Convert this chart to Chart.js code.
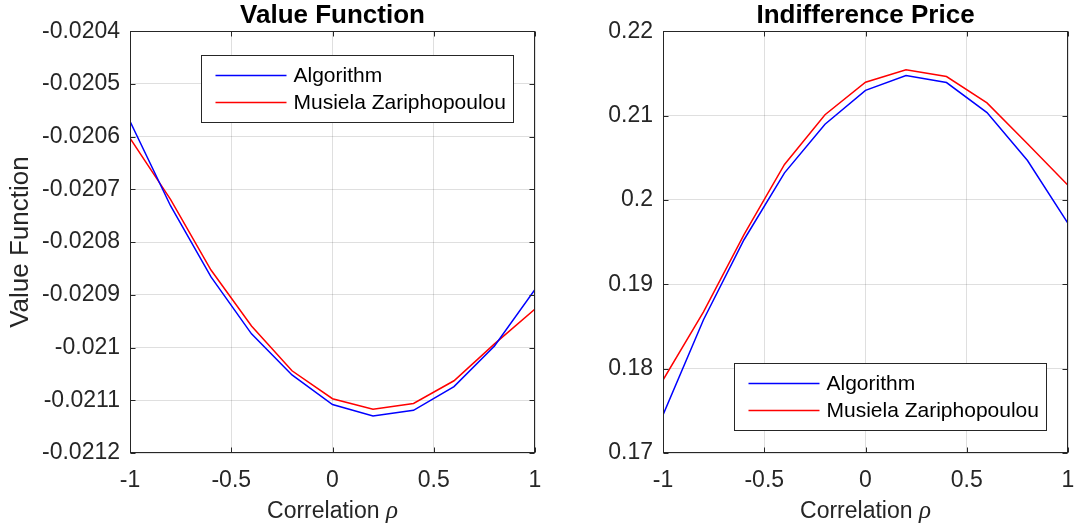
<!DOCTYPE html>
<html>
<head>
<meta charset="utf-8">
<script src="https://cdn.jsdelivr.net/npm/chart.js@4/dist/chart.umd.min.js"></script>
<style>
html, body { margin: 0; padding: 0; background: #fff; }
#wrap { position: relative; width: 1074px; height: 529px; }
.box { position: absolute; top: 0; height: 529px; }
#b1 { left: 0; width: 545px; }
#b2 { left: 545px; width: 529px; }
</style>
</head>
<body>
<div id="wrap">
  <div class="box" id="b1"><canvas id="chart1"></canvas></div>
  <div class="box" id="b2"><canvas id="chart2"></canvas></div>
</div>
<script>
// correlation grid
var rho = [-1, -0.8, -0.6, -0.4, -0.2, 0, 0.2, 0.4, 0.6, 0.8, 1];

// value function
var valueAlgorithm = [-0.020571, -0.020731, -0.020866, -0.020974, -0.021052, -0.021108, -0.021130, -0.021119, -0.021074, -0.020997, -0.020890];
var valueMZ = [-0.020603, -0.020719, -0.020853, -0.020959, -0.021044, -0.021097, -0.021117, -0.021106, -0.021063, -0.020993, -0.020927];

// indifference price
var priceAlgorithm = [0.17450, 0.18580, 0.19528, 0.20321, 0.20898, 0.21299, 0.21475, 0.21391, 0.21036, 0.20467, 0.19723];
var priceMZ = [0.17865, 0.18672, 0.19588, 0.20421, 0.21010, 0.21395, 0.21543, 0.21463, 0.21150, 0.20665, 0.20174];

var seriesNames = ['Algorithm', 'Musiela Zariphopoulou'];

// tick labels
var xTicks = [-1, -0.5, 0, 0.5, 1];
var xTickLabels = ['-1', '-0.5', '0', '0.5', '1'];
var valueTicks = [-0.0212, -0.0211, -0.021, -0.0209, -0.0208, -0.0207, -0.0206, -0.0205, -0.0204];
var valueTickLabels = ['-0.0212', '-0.0211', '-0.021', '-0.0209', '-0.0208', '-0.0207', '-0.0206', '-0.0205', '-0.0204'];
var priceTicks = [0.17, 0.18, 0.19, 0.2, 0.21, 0.22];
var priceTickLabels = ['0.17', '0.18', '0.19', '0.2', '0.21', '0.22'];

Chart.defaults.font.family = '"Liberation Sans", Arial, sans-serif';
Chart.defaults.color = '#262626';

function points(ys) {
    return rho.map(function(x, i) { return {x: x, y: ys[i]}; });
}

// matlab style: full box, inward ticks, x label with italic rho, framed legend
var matlabAxes = {
    id: 'matlabAxes',
    afterDraw: function(chart, args, opts) {
        var a = chart.chartArea, ctx = chart.ctx;
        var xs = chart.scales.x, ys = chart.scales.y;
        var l = Math.round(a.left) + 0.5, r = Math.round(a.right) - 0.5;
        var t = Math.round(a.top) + 0.5, b = Math.round(a.bottom) - 0.5;
        ctx.save();
        ctx.strokeStyle = '#262626';
        ctx.lineWidth = 1;
        ctx.beginPath();
        xs.ticks.forEach(function(tk) {
            var px = Math.round(xs.getPixelForValue(tk.value)) + 0.5;
            ctx.moveTo(px, b); ctx.lineTo(px, b - 5);
            ctx.moveTo(px, t); ctx.lineTo(px, t + 5);
        });
        ys.ticks.forEach(function(tk) {
            var py = Math.round(ys.getPixelForValue(tk.value)) + 0.5;
            ctx.moveTo(l, py); ctx.lineTo(l + 5, py);
            ctx.moveTo(r, py); ctx.lineTo(r - 5, py);
        });
        ctx.stroke();
        ctx.strokeRect(l, t, r - l, b - t);

        // x axis label
        var txt = 'Correlation ';
        ctx.fillStyle = '#262626';
        ctx.textBaseline = 'alphabetic';
        ctx.font = '23px "Liberation Sans", Arial, sans-serif';
        var w1 = ctx.measureText(txt).width;
        ctx.font = 'italic 25px "Liberation Serif", "DejaVu Serif", serif';
        var w2 = ctx.measureText('ρ').width;
        var x0 = (a.left + a.right) / 2 - (w1 + w2) / 2;
        ctx.font = '23px "Liberation Sans", Arial, sans-serif';
        ctx.textAlign = 'left';
        ctx.fillText(txt, x0, 518);
        ctx.font = 'italic 25px "Liberation Serif", "DejaVu Serif", serif';
        ctx.fillText('ρ', x0 + w1, 518);

        // legend
        var bx = Math.round(a.left + opts.left) + 0.5, by = Math.round(a.top + opts.top) + 0.5;
        var bw = 312, bh = 67;
        ctx.fillStyle = '#fff';
        ctx.fillRect(bx, by, bw, bh);
        ctx.strokeStyle = '#262626';
        ctx.strokeRect(bx, by, bw, bh);
        ctx.font = '21px "Liberation Sans", Arial, sans-serif';
        ctx.textBaseline = 'middle';
        chart.data.datasets.forEach(function(ds, i) {
            var cy = by + 20 + i * 27;
            ctx.strokeStyle = ds.borderColor;
            ctx.lineWidth = 1.5;
            ctx.beginPath();
            ctx.moveTo(bx + 14, cy); ctx.lineTo(bx + 85, cy);
            ctx.stroke();
            ctx.fillStyle = '#000';
            ctx.fillText(ds.label, bx + 92, cy + 1);
        });
        ctx.restore();
    }
};

function makeChart(id, title, ysA, ysB, yTicks, yLabels, yTitle, yWidth, padRight, legendPos) {
    var ctx = document.getElementById(id).getContext('2d');
    return new Chart(ctx, {
        type: 'line',
        data: {
            datasets: [{
                label: seriesNames[0],
                data: points(ysA),
                borderColor: '#0000ff',
                borderWidth: 1.5,
                pointRadius: 0,
                fill: false
            }, {
                label: seriesNames[1],
                data: points(ysB),
                borderColor: '#ff0000',
                borderWidth: 1.5,
                pointRadius: 0,
                fill: false
            }]
        },
        options: {
            responsive: true,
            maintainAspectRatio: false,
            animation: false,
            layout: { padding: { top: 0, right: padRight, bottom: 0, left: 0 } },
            plugins: {
                legend: { display: false },
                tooltip: { enabled: false },
                title: {
                    display: true,
                    text: title,
                    fullSize: false,
                    color: '#000',
                    font: { size: 26, weight: 'bold', lineHeight: 1.2 },
                    padding: { top: 0, bottom: 0 }
                },
                matlabAxes: legendPos
            },
            scales: {
                x: {
                    type: 'linear',
                    min: -1,
                    max: 1,
                    afterBuildTicks: function(s) { s.ticks = xTicks.map(function(v) { return {value: v}; }); },
                    afterFit: function(s) { s.height = 76; s.paddingLeft = 0; s.paddingRight = 0; },
                    ticks: {
                        font: { size: 23 },
                        padding: 14,
                        maxRotation: 0,
                        callback: function(v, i) { return xTickLabels[i]; }
                    },
                    grid: { color: 'rgba(38,38,38,0.15)', drawTicks: false },
                    border: { display: false }
                },
                y: {
                    type: 'linear',
                    min: yTicks[0],
                    max: yTicks[yTicks.length - 1],
                    afterBuildTicks: function(s) { s.ticks = yTicks.map(function(v) { return {value: v}; }); },
                    afterFit: function(s) { s.width = yWidth; s.paddingTop = 0; s.paddingBottom = 0; },
                    ticks: {
                        font: { size: 23 },
                        padding: 10,
                        callback: function(v, i) { return yLabels[i]; }
                    },
                    title: {
                        display: !!yTitle,
                        text: yTitle,
                        font: { size: 26 },
                        padding: { top: 5, bottom: 0 }
                    },
                    grid: { color: 'rgba(38,38,38,0.15)', drawTicks: false },
                    border: { display: false }
                }
            }
        },
        plugins: [matlabAxes]
    });
}

makeChart('chart1', 'Value Function', valueAlgorithm, valueMZ, valueTicks, valueTickLabels,
    'Value Function', 130, 10, {left: 71, top: 24});
makeChart('chart2', 'Indifference Price', priceAlgorithm, priceMZ, priceTicks, priceTickLabels,
    '', 118, 6, {left: 71, top: 332});
</script>
</body>
</html>
